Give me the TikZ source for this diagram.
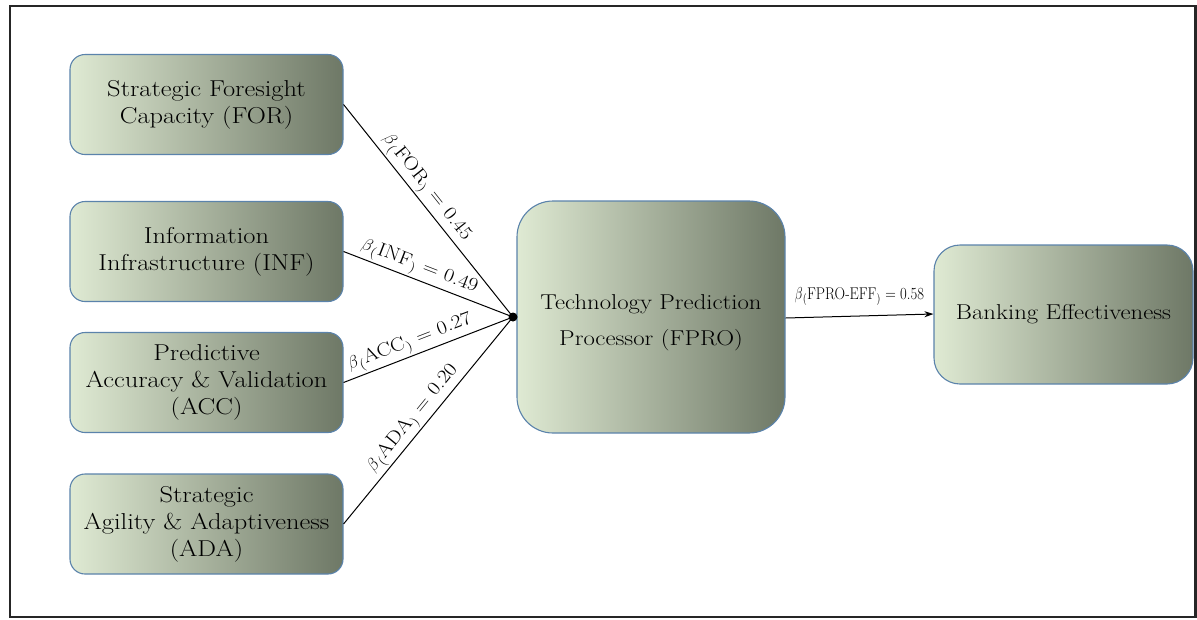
\documentclass[tikz,border=0pt]{standalone}
\usepackage{fontspec}
\usepackage{graphicx}
\setmainfont{Latin Modern Roman}[FakeStretch=1.15]
\usetikzlibrary{arrows.meta}
\definecolor{gLight}{HTML}{DFEAD3}
\definecolor{gDark}{HTML}{6E7866}
\definecolor{edgeBlue}{HTML}{5B83AB}
\tikzset{
  box/.style={draw=edgeBlue, line width=1.1pt, left color=gLight, right color=gDark,
    align=center, inner sep=0pt, text=black},
  small/.style={box, rounded corners=15pt, minimum width=273pt, minimum height=100pt,
    font=\fontsize{23}{27}\selectfont},
  link/.style={line width=1pt, black},
  coef/.style={sloped, above, inner sep=1.5pt, font=\fontsize{19}{21}\selectfont},
}
\newcommand{\bcoef}[2]{$\beta$\textsubscript{(}#1\textsubscript{)} = #2}
\begin{document}
\begin{tikzpicture}[x=1pt, y=-1pt]
  \useasboundingbox (0,0) rectangle (1197,619);
  \draw[line width=2.4pt, black!85] (10,6) rectangle (1195.5,617);

  \node[small] (for) at (206.5,104.5) {Strategic Foresight\\Capacity (FOR)};
  \node[small] (inf) at (206.5,251.5) {Information\\Infrastructure (INF)};
  \node[small] (acc) at (206.5,382.5) {Predictive\\Accuracy \& Validation\\(ACC)};
  \node[small] (ada) at (206.5,524) {Strategic\\Agility \& Adaptiveness\\(ADA)};

  \node[box, rounded corners=36pt, minimum width=268pt, minimum height=232pt] (fpro) at (651,317) {};
  \node[align=center, font=\fontsize{21.5}{36}\selectfont] (fprotext) at ([yshift=-6pt]fpro.center)
        {Technology Prediction\\Processor (FPRO)};
  \node[box, rounded corners=26pt, minimum width=259pt, minimum height=139pt,
        font=\fontsize{21.5}{27}\selectfont] (eff) at (1063.5,314.5)
        {Banking Effectiveness};

  \coordinate (hub) at (513,317);

  \draw[link] (for.east) -- node[coef, pos=0.43] {\bcoef{FOR}{0.45}} (hub);
  \draw[link] (inf.east) -- node[coef, pos=0.42] {\bcoef{INF}{0.49}} (hub);
  \draw[link] (acc.east) -- node[coef, pos=0.42] {\bcoef{ACC}{0.27}} (hub);
  \draw[link] (ada.east) -- node[coef, pos=0.47] {\bcoef{ADA}{0.20}} (hub);
  \fill[black] (hub) circle (4.5pt);

  \draw[link, -{Stealth[length=9pt, width=6pt]}] (fpro.east |- 0,318) --
    node[above=9pt, font=\fontsize{17}{19}\selectfont, inner sep=1pt]
      {\scalebox{0.75}[1]{\bcoef{FPRO-EFF}{0.58}}}
    (eff.west |- 0,314);
\end{tikzpicture}
\end{document}
